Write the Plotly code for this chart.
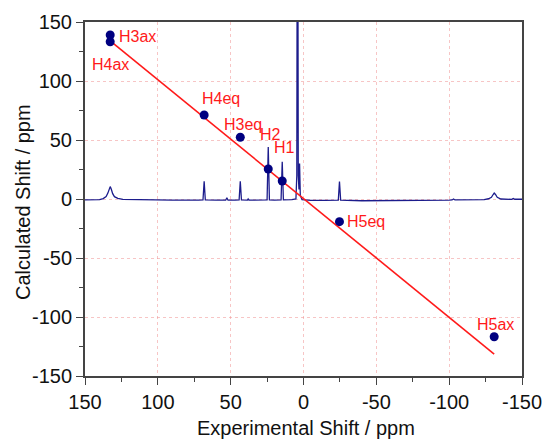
import plotly.graph_objects as go

# ---- data ----
labels = ["H3ax", "H4ax", "H4eq", "H3eq", "H2", "H1", "H5eq", "H5ax"]
exp_shift = [132.7, 132.7, 68.2, 43.4, 24.2, 14.6, -24.7, -130.9]
calc_shift = [139.0, 133.3, 71.2, 52.3, 25.4, 15.3, -19.2, -116.7]

fit_x = [132.7, -130.9]
fit_y = [134.0, -131.4]

spec_x = [150, 140, 137.5, 135.5, 134.3, 133.3, 132.7, 132.0, 131.0, 129.8, 127.5, 124,
          110, 90, 72, 69.0, 68.2, 67.4, 60, 53.4, 52.6, 51.8, 47, 44.2, 43.4, 42.6,
          38.5, 38.0, 37.5, 30, 25.0, 24.2, 23.4, 20, 15.4, 14.6, 13.8, 8, 5.2, 4.6,
          4.1, 3.6, 3.1, 2.7, 2.2, 1.0, -5, -15, -23.9, -24.7, -25.5, -40, -60, -80,
          -100, -102, -103, -104, -115, -124, -127, -129, -130.2, -130.9, -131.8,
          -133, -135.5, -140, -143, -144, -145, -150]
spec_y = [-0.8, -0.6, 0.3, 2, 5, 9, 10.5, 8.5, 4.5, 2, 0.5, -0.3,
          -0.8, -0.9, -0.9, -0.8, 15, -0.8, -1, -1, 1, -1, -1, -0.8, 15, -0.8,
          -1, 0, -1, -1, -0.8, 44, -0.8, -1, -0.8, 31.5, -0.8, -0.6, 0, 20,
          400, 20, 8, 30, 3, -0.5, -1.2, -1.2, -1, 14.7, -1, -1.5, -1.5, -1.3,
          -1, -0.8, 0, -0.8, -0.8, -0.5, 0.2, 1.5, 3.8, 5, 3.8,
          1.5, 0, -0.3, -0.3, 0.5, -0.2, -0.2]

x_ticks = [150, 100, 50, 0, -50, -100, -150]
x_ticktext = ["150", "100", "50", "0", "-50", "-100", "-150"]
y_ticks = [-150, -100, -50, 0, 50, 100, 150]
y_ticktext = ["-150", "-100", "-50", "0", "50", "100", "150"]

x_title = "Experimental Shift / ppm"
y_title = "Calculated Shift / ppm"

# label placement (styling): xanchor, xshift, yshift in px
label_style = {
    "H3ax": ("left", 7, -2),
    "H4ax": ("center", 0, -23),
    "H4eq": ("left", -4, 16),
    "H3eq": ("left", -18, 13),
    "H2": ("center", 2, 35),
    "H1": ("center", 2, 33),
    "H5eq": ("left", 6, 0),
    "H5ax": ("center", 1, 12),
}

FONT = "Arial, 'Liberation Sans', sans-serif"
NAVY = "#1c1c8c"
RED = "#ff1a1a"
INK = "#111111"

fig = go.Figure()
fig.add_trace(go.Scatter(x=spec_x, y=spec_y, mode="lines",
                         line=dict(color=NAVY, width=1.3), hoverinfo="skip"))
fig.add_trace(go.Scatter(x=fit_x, y=fit_y, mode="lines",
                         line=dict(color=RED, width=1.6), hoverinfo="skip"))
fig.add_trace(go.Scatter(x=exp_shift, y=calc_shift, mode="markers",
                         marker=dict(color="#000080", size=9), cliponaxis=False))

for lab, xv, yv in zip(labels, exp_shift, calc_shift):
    xa, xs, ys = label_style[lab]
    fig.add_annotation(x=xv, y=yv, text=lab, showarrow=False,
                       xanchor=xa, yanchor="middle", xshift=xs, yshift=ys,
                       font=dict(family=FONT, size=16, color=RED))

# axis titles
fig.add_annotation(xref="paper", yref="paper", x=0.5, y=0, text=x_title,
                   showarrow=False, xanchor="center", yanchor="middle",
                   xshift=2, yshift=-52, font=dict(family=FONT, size=20, color=INK))
fig.add_annotation(xref="paper", yref="paper", x=0, y=0.5, text=y_title,
                   showarrow=False, xanchor="center", yanchor="middle", textangle=-90,
                   xshift=-62, yshift=-3, font=dict(family=FONT, size=20, color=INK))

axis_common = dict(
    showline=True, linecolor="#444444", linewidth=2, mirror=True,
    ticks="outside", ticklen=7, tickwidth=1.2, tickcolor="#444444",
    showgrid=True, gridcolor="rgba(240,150,150,0.55)", griddash="dot", gridwidth=1,
    zeroline=False, automargin=False,
    tickfont=dict(family=FONT, size=20, color=INK),
    minor=dict(ticks="outside", ticklen=4, tickwidth=1.2, tickcolor="#444444",
               dtick=25, showgrid=False),
)

fig.update_xaxes(range=[150, -150], tickvals=x_ticks, ticktext=x_ticktext, **axis_common)
fig.update_yaxes(range=[-150, 150], tickvals=y_ticks, ticktext=y_ticktext, **axis_common)

fig.update_layout(
    width=545, height=440,
    margin=dict(l=85, r=23, t=22, b=64),
    paper_bgcolor="white", plot_bgcolor="white",
    showlegend=False,
)

# remove the default page margin so the figure sits at the window origin
fig.write_html(
    "out.html",
    config={"displayModeBar": False},
    post_script="document.body.style.margin='0';document.body.style.overflow='hidden';",
)
